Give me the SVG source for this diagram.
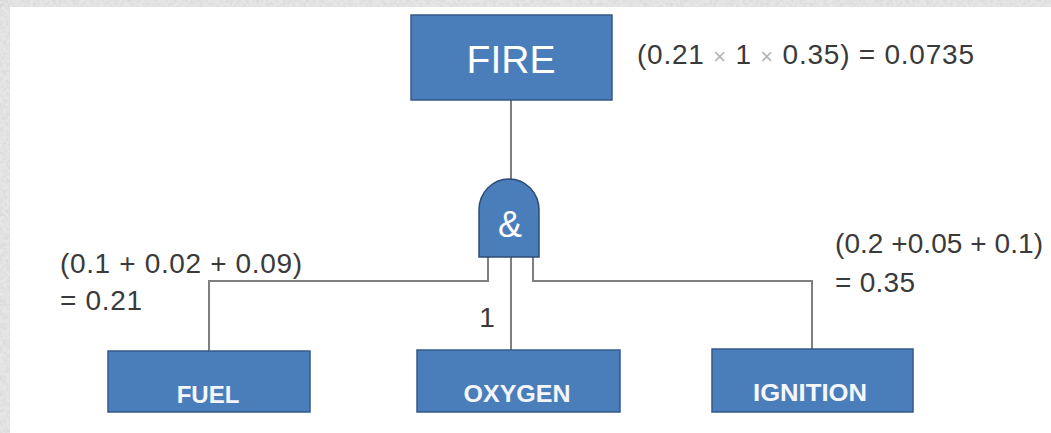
<svg xmlns="http://www.w3.org/2000/svg" width="1051" height="433" viewBox="0 0 1051 433">
  <defs>
    <filter id="grain" x="0" y="0" width="100%" height="100%">
      <feTurbulence type="fractalNoise" baseFrequency="0.3" numOctaves="2" seed="7" result="n"/>
      <feColorMatrix in="n" type="matrix" values="0 0 0 0 0.62  0 0 0 0 0.62  0 0 0 0 0.62  1.2 0 0 0 -0.45"/>
    </filter>
    <style>
      .box { fill: #4a7ebb; stroke: #36598a; stroke-width: 1.5; }
      .gate { fill: #4a7ebb; stroke: #2c4b78; stroke-width: 1.5; }
      .wire { fill: none; stroke: #7f7f7f; stroke-width: 2; }
      .title { font-family: "Liberation Sans", Arial, sans-serif; fill: #ffffff; text-anchor: middle; }
      .leaf { font-family: "Liberation Sans", Arial, sans-serif; font-weight: bold; font-size: 24px; fill: #f4f6fa; text-anchor: middle; }
      .lbl { font-family: "Liberation Sans", Arial, sans-serif; font-size: 28px; fill: #3a3a3a; }
      .times { fill: #b4b4b4; font-size: 22px; }
    </style>
  </defs>

  <!-- page background with textured margin strips -->
  <rect x="0" y="0" width="1051" height="433" fill="#ffffff"/>
  <g id="margin">
    <rect x="0" y="0" width="1051" height="7" fill="#e6e6e6"/>
    <rect x="0" y="0" width="10" height="433" fill="#e6e6e6"/>
    <rect x="0" y="0" width="1051" height="7" filter="url(#grain)"/>
    <rect x="0" y="0" width="10" height="433" filter="url(#grain)"/>
  </g>

  <!-- connectors -->
  <g id="connectors" class="wire">
    <path d="M511,100 V180"/>
    <path d="M488,257 V281 H209 V351"/>
    <path d="M511,257 V350"/>
    <path d="M533,257 V281 H812 V350"/>
  </g>

  <!-- top event -->
  <g id="fire">
    <rect class="box" x="411" y="15" width="201" height="85"/>
    <text class="title" x="511" y="73" font-size="39">FIRE</text>
  </g>
  <g id="fire-prob">
    <text class="lbl" x="637" y="64" textLength="337" lengthAdjust="spacing">(0.21 <tspan class="times">×</tspan> 1 <tspan class="times">×</tspan> 0.35) = 0.0735</text>
  </g>

  <!-- AND gate -->
  <g id="and-gate">
    <path class="gate" d="M479,257 V210 A30,31 0 0 1 539,210 V257 Z"/>
    <text class="title" x="510" y="237" font-size="36">&amp;</text>
  </g>

  <!-- basic events -->
  <g id="fuel">
    <rect class="box" x="108" y="351" width="202" height="61"/>
    <text class="leaf" x="208" y="403">FUEL</text>
  </g>
  <g id="fuel-prob">
    <text class="lbl" x="60" y="273" textLength="242" lengthAdjust="spacing">(0.1 + 0.02 + 0.09)</text>
    <text class="lbl" x="60" y="310" textLength="82" lengthAdjust="spacing">= 0.21</text>
  </g>

  <g id="oxygen">
    <rect class="box" x="417" y="350" width="203" height="62"/>
    <text class="leaf" x="517" y="402" textLength="107" lengthAdjust="spacingAndGlyphs">OXYGEN</text>
  </g>
  <g id="oxygen-prob">
    <text class="lbl" x="487" y="327" text-anchor="middle">1</text>
  </g>

  <g id="ignition">
    <rect class="box" x="712" y="349" width="201" height="63"/>
    <text class="leaf" x="810" y="401" textLength="114" lengthAdjust="spacingAndGlyphs">IGNITION</text>
  </g>
  <g id="ignition-prob">
    <text class="lbl" x="835" y="253" textLength="208" lengthAdjust="spacing">(0.2 +0.05 + 0.1)</text>
    <text class="lbl" x="835" y="292" textLength="80" lengthAdjust="spacing">= 0.35</text>
  </g>
</svg>
